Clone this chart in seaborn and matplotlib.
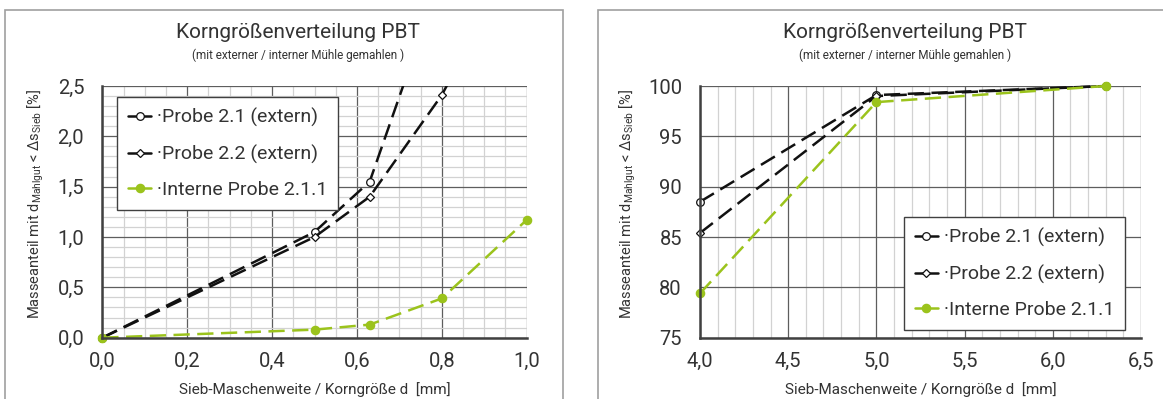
import numpy as np
import pandas as pd
import matplotlib
matplotlib.use("Agg")
import matplotlib.pyplot as plt
import seaborn as sns
from matplotlib.patches import Rectangle
from matplotlib.ticker import MultipleLocator, FuncFormatter
from matplotlib.lines import Line2D

# ---------------- data ----------------
series_names = ["Probe 2.1 (extern)", "Probe 2.2 (extern)", "Interne Probe 2.1.1"]

# fine range (left chart)
x_fine_21 = [0.0, 0.5, 0.63, 0.8]
y_fine_21 = [0.0, 1.05, 1.55, 3.60]
x_fine_22 = [0.0, 0.5, 0.63, 0.8, 1.0]
y_fine_22 = [0.0, 1.00, 1.40, 2.41, 4.00]
x_fine_int = [0.0, 0.5, 0.63, 0.8, 1.0]
y_fine_int = [0.0, 0.08, 0.13, 0.39, 1.17]

# coarse range (right chart)
x_coarse = [4.0, 5.0, 6.3]
y_coarse_21 = [88.5, 99.1, 100.0]
y_coarse_22 = [85.4, 99.0, 100.0]
y_coarse_int = [79.4, 98.4, 100.0]

title = "Korngrößenverteilung PBT"
subtitle = "(mit externer / interner Mühle gemahlen )"
xlabel = "Sieb-Maschenweite / Korngröße d  [mm]"
ylabel = r"Masseanteil mit d$_\mathregular{Mahlgut}$ < Δs$_\mathregular{Sieb}$ [%]"

# ---------------- style ----------------
sns.set_style("white")
plt.rcParams["font.family"] = ["Roboto", "DejaVu Sans"]
plt.rcParams["mathtext.fontset"] = "custom"
plt.rcParams["mathtext.rm"] = "Roboto"

GREEN = "#9BC31C"
BLACK = "#111111"
TXT = "#333333"
styles = {
    series_names[0]: dict(color=BLACK, marker="o", mfc="white", mec=BLACK, ms=5.5, mew=0.9),
    series_names[1]: dict(color=BLACK, marker="D", mfc="white", mec=BLACK, ms=4.0, mew=0.9),
    series_names[2]: dict(color=GREEN, marker="o", mfc=GREEN, mec=GREEN, ms=6.0, mew=0.9),
}

W, H = 1163, 399
fig = plt.figure(figsize=(W / 100, H / 100), dpi=100)

def px_axes(x0, x1, ytop, ybot):
    return fig.add_axes([x0 / W, 1 - ybot / H, (x1 - x0) / W, (ybot - ytop) / H])

axL = px_axes(102.3, 526.7, 86, 337.7)
axR = px_axes(700, 1141, 86, 337.7)

# frames around the two chart areas
fig.patches.append(Rectangle((5 / W, -0.1), (563 - 5) / W, (H - 10) / H + 0.1,
                             transform=fig.transFigure, fill=False, ec="#A0A0A0", lw=1.2))
fig.patches.append(Rectangle((598 / W, -0.1), 1.0, (H - 10) / H + 0.1,
                             transform=fig.transFigure, fill=False, ec="#A0A0A0", lw=1.2))

def draw(ax, data, clip_top_only):
    for name, (xs, ys) in data.items():
        df = pd.DataFrame({"x": xs, "y": ys})
        st = styles[name]
        sns.lineplot(data=df, x="x", y="y", ax=ax, color=st["color"], lw=1.8,
                     linestyle=(0, (6.5, 3)), legend=False, zorder=3)
        line = ax.lines[-1]
        line.set_marker(st["marker"])
        line.set_markerfacecolor(st["mfc"])
        line.set_markeredgecolor(st["mec"])
        line.set_markersize(st["ms"])
        line.set_markeredgewidth(st["mew"])
        if clip_top_only:
            clip = Rectangle((-0.05, -0.05), 1.1, 1.05, transform=ax.transAxes)
            line.set_clip_path(clip)
        else:
            line.set_clip_on(False)

draw(axL, {series_names[0]: (x_fine_21, y_fine_21),
           series_names[1]: (x_fine_22, y_fine_22),
           series_names[2]: (x_fine_int, y_fine_int)}, True)
draw(axR, {series_names[0]: (x_coarse, y_coarse_21),
           series_names[1]: (x_coarse, y_coarse_22),
           series_names[2]: (x_coarse, y_coarse_int)}, False)

comma1 = FuncFormatter(lambda v, p: f"{v:.1f}".replace(".", ","))
comma0 = FuncFormatter(lambda v, p: f"{v:.0f}")

def style_ax(ax, xlim, ylim, xmaj, xmin, ymaj, ymin, xfmt, yfmt, ylab_x):
    ax.set_xlim(*xlim)
    ax.set_ylim(*ylim)
    ax.xaxis.set_major_locator(MultipleLocator(xmaj))
    ax.yaxis.set_major_locator(MultipleLocator(ymaj))
    if xmin:
        ax.xaxis.set_minor_locator(MultipleLocator(xmin))
    if ymin:
        ax.yaxis.set_minor_locator(MultipleLocator(ymin))
    ax.xaxis.set_major_formatter(xfmt)
    ax.yaxis.set_major_formatter(yfmt)
    ax.set_axisbelow(True)
    ax.grid(which="major", color="#5E5E5E", lw=0.9)
    ax.grid(which="minor", color="#D2D2D2", lw=0.9)
    for s in ["top", "right"]:
        ax.spines[s].set_visible(False)
    for s in ["left", "bottom"]:
        ax.spines[s].set_color("#404040")
        ax.spines[s].set_linewidth(1.8)
        ax.spines[s].set_zorder(4)
    ax.tick_params(which="major", direction="out", length=4, width=1.4, color="#404040",
                   labelsize=14.5, labelcolor=TXT)
    ax.tick_params(axis="x", which="major", pad=6)
    ax.tick_params(axis="y", which="major", pad=9)
    ax.tick_params(which="minor", length=0)
    ax.set_xlabel(xlabel, fontsize=11, color=TXT)
    ax.set_ylabel(ylabel, fontsize=10.5, color=TXT)
    ax.xaxis.set_label_coords(0.5, -0.204)
    ax.yaxis.set_label_coords(ylab_x, 0.53)
    ax.xaxis.label.set_va("center")
    ax.yaxis.label.set_va("center")

style_ax(axL, (0, 1.0), (0, 2.5), 0.2, 0.05, 0.5, 0.1, comma1, comma1, -0.158)
style_ax(axR, (4.0, 6.5), (75, 100), 0.5, 0.1, 5, None, comma1, comma0, -0.165)

# titles (centred on chart areas)
for cx in (298, 905):
    fig.text(cx / W, 1 - 32 / H, title, ha="center", va="center", fontsize=15, color=TXT)
    fig.text(cx / W, 1 - 55 / H, subtitle, ha="center", va="center", fontsize=8.5, color=TXT)

# legends
handles = []
for name in series_names:
    st = styles[name]
    handles.append(Line2D([], [], color=st["color"], lw=1.8, marker=st["marker"],
                          mfc=st["mfc"], mec=st["mec"], ms=st["ms"], mew=st["mew"]))
labels = ["·" + n for n in series_names]

for ax, anchor in ((axL, (0.035, 0.956)), (axR, (0.4626, 0.4795))):
    leg = ax.legend(handles, labels, loc="upper left", bbox_to_anchor=anchor, borderaxespad=0,
                    fontsize=14, frameon=True, fancybox=False, framealpha=1,
                    edgecolor="#404040", handlelength=1.2, handletextpad=0.3,
                    labelspacing=0.9, borderpad=0.55, numpoints=1)
    leg.get_frame().set_linewidth(1.0)
    for t in leg.get_texts():
        t.set_color(TXT)
    leg.set_zorder(10)

fig.savefig("out.png", dpi=100)
